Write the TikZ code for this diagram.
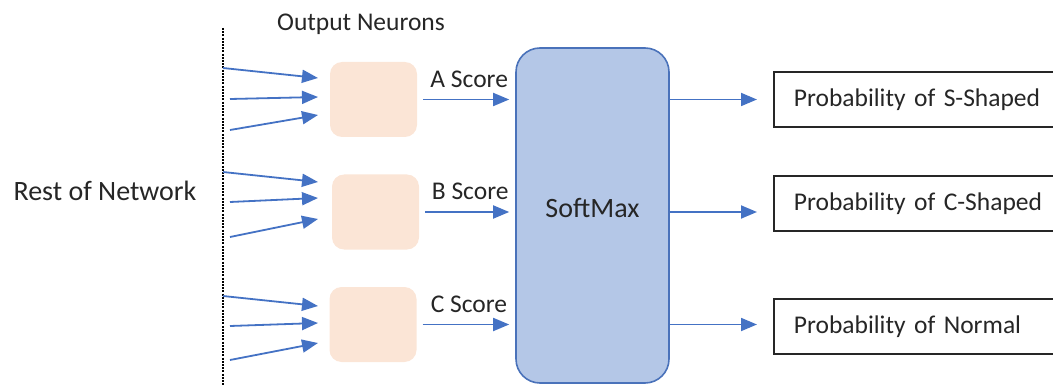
\documentclass[tikz,border=0pt]{standalone}
\usepackage{fontspec}
\setmainfont{Carlito}
\usepackage{tikz}
\usetikzlibrary{arrows.meta,positioning,calc}
\definecolor{neuronfill}{HTML}{FBE5D6}
\definecolor{softfill}{HTML}{B4C7E7}
\definecolor{softedge}{HTML}{4A72BA}
\definecolor{linkblue}{HTML}{4472C4}
\definecolor{darkgrey}{HTML}{262626}

\begin{document}
\begin{tikzpicture}[x=1pt, y=-1pt,
  every node/.style={text=darkgrey},
  bigfont/.style={font=\fontsize{28}{32}\selectfont},
  smallfont/.style={font=\fontsize{25.5}{30}\selectfont},
  neuron/.style={fill=neuronfill, rounded corners=12pt, minimum width=87pt, minimum height=75pt, inner sep=0pt},
  softbox/.style={draw=softedge, fill=softfill, line width=1.6pt, rounded corners=24pt, minimum width=153pt, minimum height=335pt, inner sep=0pt},
  probbox/.style={draw=darkgrey, line width=1.8pt, anchor=west, minimum height=55pt, text width=330pt, inner xsep=20pt, inner ysep=0pt, align=left, smallfont},
  link/.style={draw=linkblue, line width=1.8pt, -{Triangle[length=16pt, width=13pt]}},
  scorelab/.style={above=11pt, inner sep=0pt, smallfont}
]
  \useasboundingbox (0,0) rectangle (1053,385);

  \node[bigfont] (rest) at (105,191) {Rest of Network};
  \node[smallfont] (title) at (361,24) {Output Neurons};
  \coordinate (dtop) at (223,28);
  \coordinate (dbot) at (223,392);
  \draw[line width=1.2pt, dash pattern=on 2pt off 1.2pt] (dtop) -- (dbot);

  \node[neuron] (nA) at (373.5,99.5) {};
  \node[neuron] (nB) at (375.5,212) {};
  \node[neuron] (nC) at (373,324.5) {};

  \node[softbox] (soft) at (592.5,215.5) {};
  \node[bigfont] (softlab) at ([yshift=7pt]soft.center) {SoftMax};

  \foreach \n/\ya/\yb/\yc/\ea/\eb/\ec in {nA/68/99/130/78/97/115, nB/172/202/237/182/198/219, nC/296/326/360/306/323/343} {
    \coordinate (\n-s1) at (223,\ya);
    \coordinate (\n-s2) at (230,\yb);
    \coordinate (\n-s3) at (230,\yc);
    \coordinate (\n-e1) at (318,\ea);
    \coordinate (\n-e2) at (318,\eb);
    \coordinate (\n-e3) at (318,\ec);
    \foreach \i in {1,2,3}
      \draw[link] (\n-s\i) -- (\n-e\i);
  }

  \foreach \n/\lab in {nA/A, nB/B, nC/C}
    \draw[link, shorten >=6pt] ([xshift=6pt]\n.east) -- (\n.east -| soft.west)
      node[midway, scorelab] {\lab{} Score};

  \node[probbox] (pS) at (773,99.5) {Probability of S-Shaped};
  \node[probbox] (pC) at (773,203.5) {Probability of C-Shaped};
  \node[probbox] (pN) at (773,326.5) {Probability of Normal};

  \draw[link, shorten >=16pt] (soft.east |- nA) -- (pS.west |- nA);
  \draw[link, shorten >=16pt] (soft.east |- nB) -- (pC.west |- nB);
  \draw[link, shorten >=16pt] (soft.east |- nC) -- (pN.west |- nC);
\end{tikzpicture}
\end{document}
